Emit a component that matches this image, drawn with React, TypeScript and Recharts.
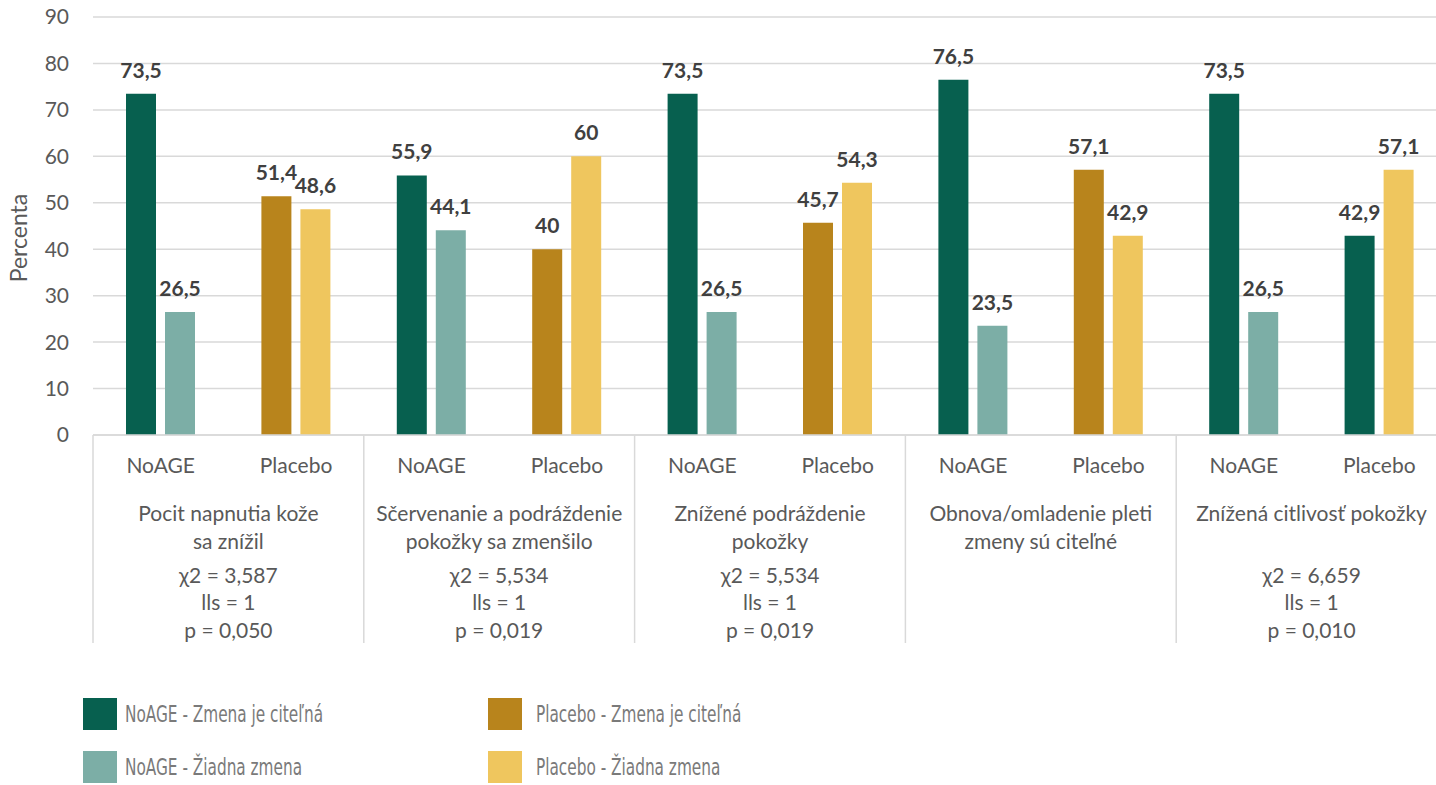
import React from "react";
import { Bar, BarChart, CartesianGrid, Cell, LabelList, XAxis, YAxis } from "recharts";

// sub-categories on the x axis
const subLabels = ["NoAGE", "Placebo", "NoAGE", "Placebo", "NoAGE", "Placebo", "NoAGE", "Placebo", "NoAGE", "Placebo"];
// "Zmena je citeľná" and "Žiadna zmena" values (%)
const zmena = [73.5, 51.4, 55.9, 40, 73.5, 45.7, 76.5, 57.1, 73.5, 42.9];
const ziadna = [26.5, 48.6, 44.1, 60, 26.5, 54.3, 23.5, 42.9, 26.5, 57.1];

const groupTitles = [
    ["Pocit napnutia kože", "sa znížil"],
    ["Sčervenanie a podráždenie", "pokožky sa zmenšilo"],
    ["Znížené podráždenie", "pokožky"],
    ["Obnova/omladenie pleti", "zmeny sú citeľné"],
    ["Znížená citlivosť pokožky"],
];
const groupStats = [
    ["χ2 = 3,587", "lls = 1", "p = 0,050"],
    ["χ2 = 5,534", "lls = 1", "p = 0,019"],
    ["χ2 = 5,534", "lls = 1", "p = 0,019"],
    [],
    ["χ2 = 6,659", "lls = 1", "p = 0,010"],
];

const yTicks = [0, 10, 20, 30, 40, 50, 60, 70, 80, 90];

const legendLabels = [
    "NoAGE - Zmena je citeľná",
    "Placebo - Zmena je citeľná",
    "NoAGE - Žiadna zmena",
    "Placebo - Žiadna zmena",
];

const GREEN = "#07604f";
const TEAL = "#7caea6";
const GOLD = "#b8841c";
const YELLOW = "#efc65e";

// the last "Placebo" bar is drawn in green in the original
const zmenaColors = [GREEN, GOLD, GREEN, GOLD, GREEN, GOLD, GREEN, GOLD, GREEN, GREEN];
const ziadnaColors = [TEAL, YELLOW, TEAL, YELLOW, TEAL, YELLOW, TEAL, YELLOW, TEAL, YELLOW];
const legendColors = [GREEN, GOLD, TEAL, YELLOW];

const data = subLabels.map((name, i) => ({ name, zmena: zmena[i], ziadna: ziadna[i] }));

const CHART_W = 1460;
const CHART_H = 660;
const Y_AXIS_W = 93;
const MARGIN_RIGHT = 13;
const CAT_W = (CHART_W - Y_AXIS_W - MARGIN_RIGHT) / subLabels.length;

const FONT = "Lato, Calibri, sans-serif";
const TEXT = "#595959";
const GRID = "#d9d9d9";

const fmt = (v: any) => String(v).replace(".", ",");

function CategoryTick(props: any) {
    const { x, y, index, payload } = props;
    const isFirst = index % 2 === 0;
    const g = Math.floor(index / 2);
    const gx = x + CAT_W / 2;
    const textProps = {
        fill: TEXT,
        fontSize: 21,
        fontFamily: FONT,
        textAnchor: "middle" as const,
        dominantBaseline: "central" as const,
    };
    return (
        <g>
            <text x={x} y={y + 29} {...textProps}>
                {payload.value}
            </text>
            {isFirst && (
                <>
                    <line x1={x - CAT_W / 2} x2={x - CAT_W / 2} y1={y} y2={y + 208} stroke={GRID} strokeWidth={1.5} />
                    {groupTitles[g].map((t, k) => (
                        <text key={"t" + k} x={gx} y={y + 77 + k * 28} {...textProps}>
                            {t}
                        </text>
                    ))}
                    {groupStats[g].map((t, k) => (
                        <text key={"s" + k} x={gx} y={y + 139 + k * 27.5} {...textProps}>
                            {t}
                        </text>
                    ))}
                </>
            )}
            {index === subLabels.length - 1 && (
                <line x1={x + CAT_W / 2} x2={x + CAT_W / 2} y1={y} y2={y + 208} stroke={GRID} strokeWidth={1.5} />
            )}
        </g>
    );
}

const labelStyle = { fill: "#404040", fontSize: 21, fontWeight: 700, fontFamily: FONT };

export default function App() {
    return (
        <div style={{ position: "absolute", left: 0, top: 0, width: 1436, height: 785, overflow: "hidden", background: "#fff" }}>
            <BarChart
                width={CHART_W}
                height={CHART_H}
                data={data}
                margin={{ top: 17, right: MARGIN_RIGHT, left: 0, bottom: 0 }}
                barSize={30}
                barGap={9}
            >
                <CartesianGrid vertical={false} stroke={GRID} strokeWidth={1.5} />
                <YAxis
                    width={Y_AXIS_W}
                    domain={[0, 90]}
                    ticks={yTicks}
                    interval={0}
                    axisLine={false}
                    tickLine={false}
                    tickMargin={18}
                    tick={{ fill: TEXT, fontSize: 21, fontFamily: FONT }}
                    label={{
                        content: ({ viewBox }: any) => {
                            const cx = 18;
                            const cy = viewBox.y + viewBox.height / 2 + 12;
                            return (
                                <text
                                    x={cx}
                                    y={cy}
                                    transform={`rotate(-90 ${cx} ${cy})`}
                                    textAnchor="middle"
                                    dominantBaseline="central"
                                    fill={TEXT}
                                    fontSize={23}
                                    fontFamily={FONT}
                                >
                                    Percenta
                                </text>
                            );
                        },
                    }}
                />
                <XAxis
                    dataKey="name"
                    height={225}
                    interval={0}
                    tickLine={false}
                    tickSize={0}
                    tickMargin={0}
                    axisLine={{ stroke: GRID, strokeWidth: 1.5 }}
                    tick={<CategoryTick />}
                />
                <Bar dataKey="zmena" isAnimationActive={false}>
                    {data.map((_, i) => (
                        <Cell key={`z-${i}`} fill={zmenaColors[i]} />
                    ))}
                    <LabelList dataKey="zmena" position="top" offset={16} formatter={fmt} style={labelStyle} />
                </Bar>
                <Bar dataKey="ziadna" isAnimationActive={false}>
                    {data.map((_, i) => (
                        <Cell key={`n-${i}`} fill={ziadnaColors[i]} />
                    ))}
                    <LabelList dataKey="ziadna" position="top" offset={16} formatter={fmt} style={labelStyle} />
                </Bar>
            </BarChart>
            <div
                style={{
                    position: "absolute",
                    left: 83,
                    top: 698,
                    display: "grid",
                    gridTemplateColumns: "405px 405px",
                    rowGap: 21,
                    fontFamily: "'DejaVu Sans Condensed', sans-serif",
                    fontSize: 23,
                    color: "#7a7a7a",
                }}
            >
                {legendLabels.map((t, i) => (
                    <div key={t} style={{ display: "flex", alignItems: "center", height: 32 }}>
                        <div
                            style={{
                                width: 34,
                                height: 32,
                                background: legendColors[i],
                                marginRight: i % 2 === 0 ? 8 : 14,
                                flex: "none",
                            }}
                        />
                        <span
                            style={{
                                display: "inline-block",
                                whiteSpace: "nowrap",
                                transform: "scaleX(0.74)",
                                transformOrigin: "left center",
                            }}
                        >
                            {t}
                        </span>
                    </div>
                ))}
            </div>
        </div>
    );
}
